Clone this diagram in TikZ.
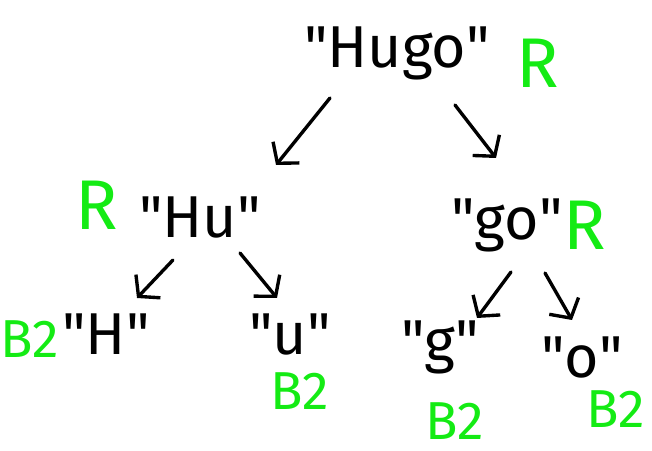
\documentclass[tikz,border=0pt]{standalone}
\usepackage{fontspec}
\setmainfont{Fira Sans}
\usepackage{xcolor}
\usepackage{tikz}
\usetikzlibrary{calc, arrows.meta, positioning}
\definecolor{xanhla}{RGB}{20,235,20}
\newcommand{\nhay}{\textquotedbl}

\begin{document}
\begin{tikzpicture}[>={Straight Barb[length=10pt, width=24pt]}, x=0.025cm, y=-0.025cm,
    chu/.style={inner sep=0, anchor=base, font=\fontsize{42}{48}\selectfont},
    nhan/.style={inner sep=0, anchor=base, text=xanhla, font=\fontsize{38}{44}\selectfont},
    nhanr/.style={nhan, font=\fontsize{50}{56}\selectfont},
    mui/.style={->, line width=2.4pt, line cap=round, line join=round}]
    \useasboundingbox (0,0) rectangle (652,451);

    % Các chuỗi
    \node[chu] (hugo) at (397,68) {\nhay Hugo\nhay};
    \node[chu] (hu) at (200,238) {\nhay Hu\nhay};
    \node[chu] (go) at (507,240) {\nhay go\nhay};
    \node[chu] (h) at (106,355) {\nhay H\nhay};
    \node[chu] (u) at (290,355) {\nhay u\nhay};
    \node[chu] (g) at (440,362) {\nhay g\nhay};
    \node[chu] (o) at (582,378) {\nhay o\nhay};

    % Nhãn màu xanh
    \node[nhanr] (rhugo) at (538,88) {R};
    \node[nhanr] (rhu) at (97,230) {R};
    \node[nhanr] (rgo) at (585,250) {R};
    \node[nhan] (bh) at (30,358) {B2};
    \node[nhan] (bu) at (300,410) {B2};
    \node[nhan] (bg) at (455,440) {B2};
    \node[nhan] (bo) at (616,428) {B2};

    % Mũi tên
    \draw[mui] ($(hugo.base)+(-67,30)$) -- ($(hu.base)+(76,-73)$);
    \draw[mui] ($(hugo.base)+(58,37)$) -- ($(go.base)+(-11,-82)$);
    \draw[mui] ($(hu.base)+(-27,22)$) -- ($(h.base)+(31,-57)$);
    \draw[mui] ($(hu.base)+(40,15)$) -- ($(u.base)+(-13,-57)$);
    \draw[mui] ($(go.base)+(4,32)$) -- ($(g.base)+(37,-44)$);
    \draw[mui] ($(go.base)+(38,33)$) -- ($(o.base)+(-10,-58)$);
\end{tikzpicture}
\end{document}
